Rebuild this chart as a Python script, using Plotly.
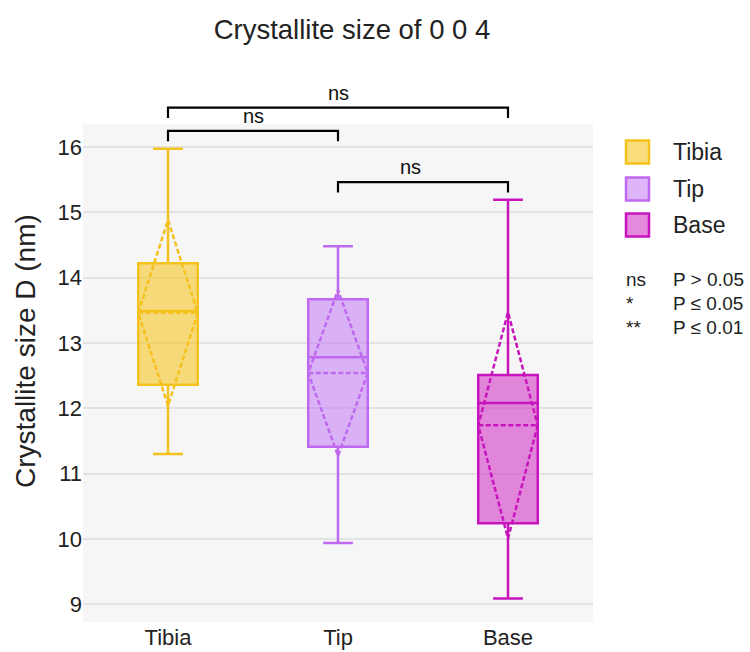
import plotly.graph_objects as go

# Summary statistics per group (crystallite size D in nm, 0 0 4 reflection)
groups = ["Tibia", "Tip", "Base"]
q1 = [12.36, 11.41, 10.24]
median = [13.49, 12.78, 12.08]
q3 = [14.22, 13.67, 12.51]
lowerfence = [11.30, 9.94, 9.09]
upperfence = [15.97, 14.48, 15.19]
means = [13.46, 12.54, 11.74]
sds = [1.42, 1.27, 1.73]

line_colors = ["#F5C11C", "#BE69F0", "#C814BD"]
fill_colors = ["rgba(247,200,40,0.6)", "rgba(196,120,245,0.55)", "rgba(205,40,195,0.55)"]

# Pairwise comparisons: (group a, group b, label, bracket level in nm)
comparisons = [
    ("Tibia", "Tip", "ns", 16.245),
    ("Tip", "Base", "ns", 15.46),
    ("Tibia", "Base", "ns", 16.60),
]
pvalue_keys = ["ns", "*", "**"]
pvalue_texts = ["P > 0.05", "P ≤ 0.05", "P ≤ 0.01"]

Y_RANGE = [8.73, 16.35]
X_RANGE = [-0.5, len(groups) - 0.5]
FONT = "Liberation Sans, Arial, sans-serif"

W, H = 750, 652
M_L, M_R, M_T, M_B = 83, 157, 124, 30
PW, PH = W - M_L - M_R, H - M_T - M_B


def xpaper_cat(name):
    i = groups.index(name)
    return (i - X_RANGE[0]) / (X_RANGE[1] - X_RANGE[0])


def ypaper_val(v):
    return (v - Y_RANGE[0]) / (Y_RANGE[1] - Y_RANGE[0])


def px_to_xpaper(px):
    return (px - M_L) / PW


def px_to_ypaper(py):
    return (H - M_B - py) / PH


fig = go.Figure()
for i, g in enumerate(groups):
    fig.add_trace(go.Box(
        name=g,
        x=[g],
        q1=[q1[i]],
        median=[median[i]],
        q3=[q3[i]],
        lowerfence=[lowerfence[i]],
        upperfence=[upperfence[i]],
        mean=[means[i]],
        sd=[sds[i]],
        boxmean="sd",
        boxpoints=False,
        whiskerwidth=0.5,
        line=dict(color=line_colors[i], width=2.5),
        fillcolor=fill_colors[i],
        showlegend=False,
        hoverinfo="skip",
    ))

shapes = []
annotations = []

# Significance brackets
tick_drop = 0.16
for a, b, label, level in comparisons:
    xa, xb = xpaper_cat(a), xpaper_cat(b)
    yl, yt = ypaper_val(level - tick_drop), ypaper_val(level)
    shapes.append(dict(
        type="path", xref="paper", yref="paper",
        path=f"M {xa},{yl} L {xa},{yt} L {xb},{yt} L {xb},{yl}",
        line=dict(color="black", width=2.2),
    ))
    annotations.append(dict(
        xref="paper", yref="paper", x=(xa + xb) / 2, y=yt,
        text=label, showarrow=False, yanchor="bottom", yshift=2,
        font=dict(size=20, color="#111", family=FONT),
    ))

# Group legend drawn as boxes with labels
legend_rows_py = [152, 189, 225]
for i, g in enumerate(groups):
    cy = legend_rows_py[i]
    shapes.append(dict(
        type="rect", xref="paper", yref="paper",
        x0=px_to_xpaper(626), x1=px_to_xpaper(649),
        y0=px_to_ypaper(cy + 11.5), y1=px_to_ypaper(cy - 11.5),
        fillcolor=fill_colors[i], line=dict(color=line_colors[i], width=2.5),
    ))
    annotations.append(dict(
        xref="paper", yref="paper", x=px_to_xpaper(671), y=px_to_ypaper(cy),
        text=g, showarrow=False, xanchor="left", yanchor="middle",
        font=dict(size=23, color="#222", family=FONT),
    ))

# Significance key
key_rows_py = [279, 303, 327]
for k, t, cy in zip(pvalue_keys, pvalue_texts, key_rows_py):
    annotations.append(dict(
        xref="paper", yref="paper", x=px_to_xpaper(624), y=px_to_ypaper(cy),
        text=k, showarrow=False, xanchor="left", yanchor="middle",
        font=dict(size=19, color="#222", family=FONT),
    ))
    annotations.append(dict(
        xref="paper", yref="paper", x=px_to_xpaper(671), y=px_to_ypaper(cy),
        text=t, showarrow=False, xanchor="left", yanchor="middle",
        font=dict(size=19, color="#222", family=FONT),
    ))

# Y axis title
annotations.append(dict(
    xref="paper", yref="paper", x=px_to_xpaper(25), y=px_to_ypaper(351),
    text="Crystallite size D (nm)", textangle=-90, showarrow=False,
    xanchor="center", yanchor="middle",
    font=dict(size=28, color="#222", family=FONT),
))

fig.update_layout(
    width=W, height=H,
    margin=dict(l=M_L, r=M_R, t=M_T, b=M_B, autoexpand=False),
    paper_bgcolor="white",
    plot_bgcolor="#F6F6F6",
    boxgap=0.5,
    boxmode="overlay",
    title=dict(
        text="Crystallite size of 0 0 4",
        x=352 / W, xanchor="center", xref="container",
        y=1 - 29 / H, yanchor="middle", yref="container",
        font=dict(size=27.5, color="#222", family=FONT),
    ),
    xaxis=dict(
        type="category", categoryorder="array", categoryarray=groups,
        range=X_RANGE, showgrid=False, zeroline=False, showline=False,
        ticks="", automargin=False,
        tickfont=dict(size=22, color="#222", family=FONT),
    ),
    yaxis=dict(
        range=Y_RANGE, tickvals=[9, 10, 11, 12, 13, 14, 15, 16],
        showgrid=True, gridcolor="#E2E2E2", gridwidth=1.5,
        zeroline=False, showline=False, ticks="", automargin=False,
        tickfont=dict(size=22, color="#222", family=FONT),
    ),
    shapes=shapes,
    annotations=annotations,
)

fig.write_html("out.html")
